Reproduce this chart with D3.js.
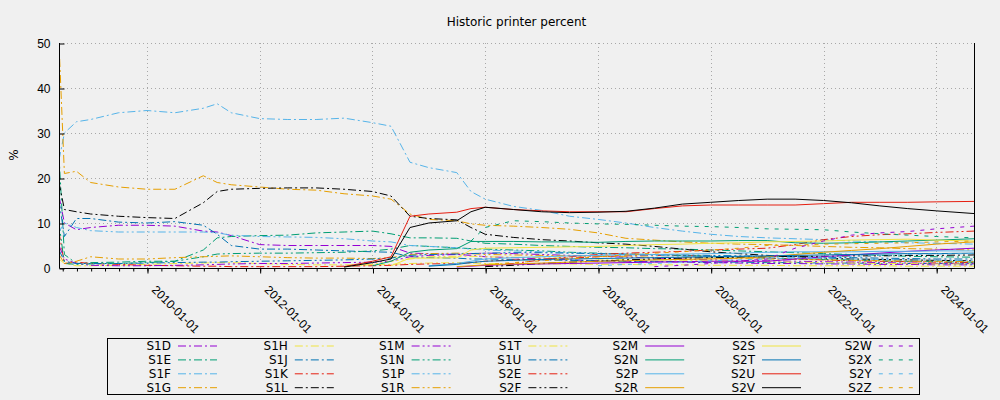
<!DOCTYPE html>
<html>
<head>
<meta charset="utf-8">
<script src="https://cdn.jsdelivr.net/npm/d3@7"></script>
<style>
  body { margin: 0; background: #f0f0f0; }
  svg { display: block; font-family: "DejaVu Sans", sans-serif; }
  .tick text { font-size: 12px; fill: #000; }
</style>
</head>
<body>
<svg width="1000" height="400"></svg>
<script>
const _ = null;

const dates = ["2008-06-10","2008-07-15","2008-10-01","2009-01-01","2009-07-01","2010-01-01","2010-07-01",
  "2011-01-01","2011-04-01","2011-07-01","2012-01-01","2012-07-01","2013-01-01","2013-07-01","2014-01-01",
  "2014-05-01","2014-09-01","2015-01-01","2015-07-01","2015-10-01","2016-01-01","2016-07-01","2017-01-01",
  "2017-07-01","2018-01-01","2018-07-01","2019-01-01","2019-07-01","2020-01-01","2020-07-01","2021-01-01",
  "2021-07-01","2022-01-01","2022-07-01","2023-01-01","2023-07-01","2024-01-01","2024-09-02"];

const names = ["S1D","S1E","S1F","S1G","S1H","S1J","S1K","S1L","S1M","S1N","S1P","S1R","S1T","S1U",
  "S2E","S2F","S2M","S2N","S2P","S2R","S2S","S2T","S2U","S2V","S2W","S2X","S2Y","S2Z"];

const s1d = [16,10,8.5,9,9.5,9.5,9.3,8.2,8,7.2,5.2,5,5,5,5,4.8,3.3,3.2,3,2.8,2.5,2.3,2,1.8,1.6,1.5,1.4,1.3,1.2,1.1,1,1,0.9,0.9,0.8,0.8,0.7,0.7];
const s1e = [25,3,1,1.2,1.3,1.5,1.5,4,6.7,7,7.2,7.3,7.8,8,8.2,7.6,6.7,6.7,6.6,6,5.5,5.3,5,4.8,4.6,4.5,4.3,4.2,4,3.8,3.6,3.4,3.2,3,2.8,2.6,2.5,2.4];
const s1f = [24,30,32.5,33,34.5,35,34.5,35.5,36.5,34.5,33.2,33,33,33.3,32.3,31.5,23.5,22.3,21.2,17,15.3,13.7,12.8,11.5,10.8,10,9,8.2,7.5,7,6.7,6.5,6.3,6,5.8,5.6,5.5,5.3];
const s1g = [50,21,21.5,19,18,17.5,17.5,20.5,19,18.5,18,17.5,17.3,16.5,16,15.3,12,10.8,10.5,9.8,9.5,9.3,9,8.6,7.8,6.6,6.2,5.8,5.5,5.3,5.2,5,4.8,4.6,4.5,4.3,4.2,4];
const s1h = [2,1,0.5,0.5,0.6,0.8,1,1.1,1.2,1.2,1,0.8,0.7,0.7,0.7,0.8,1,1.1,1.2,1.1,1,1,0.9,0.9,0.8,0.8,0.7,0.7,0.6,0.6,0.6,0.5,0.5,0.5,0.5,0.4,0.4,0.4];
const s1j = [15,7,11,11,10.2,10,10.3,9.5,7.5,5,4.2,4.2,4,3.8,3.6,3.5,2.5,2.3,2.2,2,2,1.9,1.8,1.7,1.6,1.5,1.5,1.4,1.3,1.3,1.2,1.2,1.1,1.1,1,1,1,0.9];
const s1k = [8,1,1.3,1,0.8,0.6,0.5,0.4,0.4,0.3,0.3,0.3,0.3,0.4,0.5,0.6,0.8,0.9,1,1.2,1.5,1.8,2,2.2,2.5,2.7,2.8,2.8,2.6,2.4,2.2,2,1.8,1.6,1.5,1.4,1.3,1.2];
const s1l = [19,13,12.5,12,11.5,11.2,11,14.5,17,17.5,17.7,17.8,17.8,17.5,17,16,11.5,11,10.7,9,7.5,6.8,6.3,6,5.6,5.3,4.8,4.2,3.6,3.2,2.8,2.5,2.2,2,1.9,1.8,1.7,1.6];
const s1m = [5,2,1,0.6,0.5,0.5,0.6,0.7,0.8,0.9,1,1,1.1,1.2,1.3,1.5,2.5,2.8,3,3.2,3.3,3.2,3,2.8,2.6,2.4,2.2,2,1.8,1.7,1.6,1.5,1.4,1.3,1.2,1.1,1,1];
const s1n = [10,1,0.8,0.9,1,1.2,1.5,2.5,3.1,3.2,3.3,3.3,3.4,3.5,3.8,4.2,5,4.8,4.5,4.3,4.2,4,3.8,3.5,3.3,3.1,3,2.8,2.6,2.4,2.2,2,1.9,1.8,1.6,1.5,1.4,1.3];
const s1p = [8,10,9,8.3,8,8,8,8,7.8,7.3,7,6.9,6.8,6.5,6,5.8,5,4.8,4.5,4.2,4,3.8,3.6,3.4,3.2,3,2.8,2.6,2.5,2.4,2.3,2.2,2.1,2,1.9,1.8,1.7,1.6];
const s1r = [3,1,1.5,2.5,2,2,2.3,2.5,2.6,2.7,2.5,2.3,2.2,2.2,2.1,2.3,3,3.2,3.3,3.2,3,2.9,2.8,2.7,2.6,2.5,2.4,2.3,2.2,2.1,2,1.9,1.8,1.7,1.6,1.5,1.5,1.4];
const s1t = [_,_,_,_,_,_,_,_,_,_,_,_,_,0.3,0.8,1.5,2,2.5,2.6,2.6,2.5,2.4,2.3,2.2,2,1.9,1.8,1.7,1.6,1.5,1.4,1.3,1.2,1.1,1,1,0.9,0.9];
const s1u = [4,1.5,1,1,1,1.1,1.2,1.3,1.3,1.4,1.5,1.6,1.7,1.8,2,2.2,2.8,3,3.1,3.2,3.3,3.4,3.4,3.3,3.2,3.1,3,2.9,2.8,2.7,2.6,2.5,2.4,2.3,2.2,2.1,2,2];
const s2e = [_,_,_,_,_,_,_,_,_,_,_,_,_,_,_,_,_,_,_,_,0.5,1,1.8,2.5,3,3.3,3.5,3.7,4,4.2,4.4,5.2,6.3,7,7.4,7.6,7.9,8.2];
const s2f = [_,_,_,_,_,_,_,_,_,_,_,_,_,_,_,_,_,_,_,_,0.3,0.6,1,1.3,1.5,1.8,2,2.2,2.3,2.4,2.5,2.6,2.6,2.7,2.7,2.8,2.8,2.9];
const s2m = [_,_,_,_,_,_,_,_,_,_,_,_,_,_,_,_,_,_,0.2,0.4,0.6,0.8,0.9,1,1.1,1.2,1.3,1.4,1.5,1.5,1.5,2,2.5,2.9,3.3,3.7,4,4.4];
const s2n = [_,_,_,_,_,_,_,_,_,_,_,_,_,_,0.5,1.5,3.5,4,4.3,5.9,5.9,5.9,5.8,5.8,5.7,5.9,6,6,6,6.1,6.1,5.6,5.5,5.6,5.8,6,6.2,6.5];
const s2p = [_,_,_,_,_,_,_,_,_,_,_,_,_,_,_,_,_,0.5,1,1.5,2,2.3,2.5,2.7,2.8,2.9,3,3.1,3.2,3.3,3.5,3.6,3.6,3.6,3.7,3.7,3.8,3.8];
const s2r = [_,_,_,_,_,_,_,_,_,_,_,_,_,_,_,_,_,_,0.3,0.5,0.7,0.9,1.1,1.3,1.5,1.6,1.8,1.9,2,2.2,2.5,3,3.5,3.9,4.3,4.8,5.3,5.8];
const s2s = [_,_,_,_,_,_,_,_,_,_,_,_,_,_,_,0.5,2.2,2.2,2.3,4,4.4,4.5,4.6,4.7,4.8,5,5.2,5.3,5.5,5.6,5.8,5.9,6,6.2,6.3,6.4,6.2,6];
const s2t = [_,_,_,_,_,_,_,_,_,_,_,_,_,_,_,_,_,0.4,0.8,1.2,1.5,1.7,1.9,2,2.1,2.2,2.3,2.4,2.5,2.6,2.7,2.8,2.9,3,3.1,3.2,3.2,3.3];
const s2u = [_,_,_,_,_,_,_,_,_,_,_,_,_,0.3,1.5,2.5,11.5,12,12.4,13.2,13.5,13,12.7,12.5,12.5,12.5,13.2,13.8,14,14,14,14,14.3,14.6,14.6,14.6,14.7,14.8];
const s2v = [_,_,_,_,_,_,_,_,_,_,_,_,_,0.2,1.2,2,9,10,10.5,12.5,13.5,13,12.5,12.3,12.4,12.6,13.3,14.2,14.6,15,15.3,15.3,15,14.5,13.8,13.2,12.7,12.1];
const s2w = [_,_,_,_,_,_,_,_,_,_,_,_,_,_,_,_,_,_,_,_,_,_,_,_,_,_,0.3,0.6,1,1.5,2,4.4,6,7.3,7.8,8.1,8.7,9.3];
const s2x = [_,_,_,_,_,_,_,_,_,_,_,_,_,_,_,_,_,_,_,6,9,10.5,10.3,10,9.8,9.7,9.5,9.3,9.2,9,8.7,8.6,8.5,8,7.6,7.3,7,6.7];
const s2y = [_,_,_,_,_,_,_,_,_,_,_,_,_,_,_,_,_,_,_,_,_,_,_,_,0.5,0.8,1,1.3,1.6,1.8,2,2.2,2.4,2.6,2.8,3,3.1,3.2];
const s2z = [_,_,_,_,_,_,_,_,_,_,_,_,_,_,_,_,_,_,_,_,0.8,1.2,1.6,2,2.5,2.9,3.3,3.6,4,4.4,5,5.1,5.3,5.4,5.5,5.6,5.8,6];

const allValues = [s1d,s1e,s1f,s1g,s1h,s1j,s1k,s1l,s1m,s1n,s1p,s1r,s1t,s1u,
  s2e,s2f,s2m,s2n,s2p,s2r,s2s,s2t,s2u,s2v,s2w,s2x,s2y,s2z];

const yTicks = [0, 10, 20, 30, 40, 50];
const xTickYears = [2010, 2012, 2014, 2016, 2018, 2020, 2022, 2024];

// gnuplot default palette and dash styles
const palette = ["#9400d3","#009e73","#56b4e9","#e69f00","#f0e442","#0072b2","#e51e10","#000000"];
const dashStyles = ["8,3,2,3", "8,3,2,3,2,3", null, "4,6"];

const parse = d3.timeParse("%Y-%m-%d");
const xDates = dates.map(parse);

const svg = d3.select("svg");
const margin = { left: 59, right: 974, top: 43, bottom: 268 };

const x = d3.scaleTime()
  .domain([parse("2008-06-10"), parse("2024-09-02")])
  .range([margin.left, margin.right]);
const y = d3.scaleLinear().domain([0, 50]).range([margin.bottom, margin.top]);

svg.append("defs").append("clipPath").attr("id", "clip")
  .append("rect")
  .attr("x", margin.left).attr("y", margin.top)
  .attr("width", margin.right - margin.left).attr("height", margin.bottom - margin.top);

// grid
const grid = svg.append("g")
  .attr("stroke", "#a8a8a8")
  .attr("stroke-width", 1)
  .attr("stroke-dasharray", "1,3");
grid.selectAll(".gy").data(yTicks.slice(1)).enter().append("line")
  .attr("x1", margin.left).attr("x2", margin.right)
  .attr("y1", d => y(d) + 0.5).attr("y2", d => y(d) + 0.5);
grid.selectAll(".gx").data(xTickYears).enter().append("line")
  .attr("x1", d => Math.round(x(new Date(d, 0, 1))) + 0.5)
  .attr("x2", d => Math.round(x(new Date(d, 0, 1))) + 0.5)
  .attr("y1", margin.top).attr("y2", margin.bottom);

// series
const line = d3.line()
  .defined(d => d.v != null)
  .x(d => d.x)
  .y(d => d.y);

const plot = svg.append("g").attr("clip-path", "url(#clip)");
names.forEach((name, i) => {
  const pts = allValues[i].map((v, j) => ({ v: v, x: x(xDates[j]), y: v == null ? 0 : y(v) }));
  plot.append("path")
    .datum(pts)
    .attr("fill", "none")
    .attr("stroke", palette[i % 8])
    .attr("stroke-width", 1)
    .attr("stroke-dasharray", dashStyles[Math.floor(i / 8)])
    .attr("d", line);
});

// border
svg.append("path")
  .attr("fill", "none")
  .attr("stroke", "#000")
  .attr("stroke-width", 1)
  .attr("d", `M${margin.left + 0.5},${margin.top}V${margin.bottom + 0.5}H${margin.right + 0.5}V${margin.top}`);

// y axis
const yAxis = svg.append("g")
  .attr("transform", `translate(${margin.left + 0.5},0.5)`)
  .call(d3.axisLeft(y).tickValues(yTicks).tickSize(-5).tickPadding(9));
yAxis.select(".domain").remove();
yAxis.selectAll(".tick line").attr("stroke", "#000");

// x axis: minor + major ticks
const minor = svg.append("g")
  .attr("transform", `translate(0.5,${margin.bottom + 0.5})`)
  .call(d3.axisBottom(x).ticks(d3.timeMonth.every(3)).tickSize(3).tickFormat(""));
minor.select(".domain").remove();

const xAxis = svg.append("g")
  .attr("transform", `translate(0.5,${margin.bottom + 0.5})`)
  .call(d3.axisBottom(x)
    .tickValues(xTickYears.map(d => new Date(d, 0, 1)))
    .tickSize(5)
    .tickFormat(d3.timeFormat("%Y-%m-%d")));
xAxis.select(".domain").remove();
xAxis.selectAll(".tick text")
  .attr("y", 0)
  .attr("dy", "0.35em")
  .attr("text-anchor", "start")
  .attr("transform", "translate(6,19) rotate(45)");

// title and label
svg.append("text")
  .attr("x", (margin.left + margin.right) / 2)
  .attr("y", 26)
  .attr("text-anchor", "middle")
  .attr("font-size", 12)
  .text("Historic printer percent");

svg.append("text")
  .attr("transform", "translate(18,155) rotate(-90)")
  .attr("text-anchor", "middle")
  .attr("font-size", 12)
  .text("%");

// legend
const legend = svg.append("g");
legend.append("rect")
  .attr("x", 107.5).attr("y", 338.5)
  .attr("width", 812).attr("height", 56)
  .attr("fill", "none").attr("stroke", "#000");

names.forEach((name, i) => {
  const col = Math.floor(i / 4), row = i % 4;
  const tx = 171 + col * 116.8;
  const ty = 350 + row * 13.9;
  legend.append("text")
    .attr("x", tx).attr("y", ty)
    .attr("text-anchor", "end")
    .attr("font-size", 12)
    .text(name);
  legend.append("line")
    .attr("x1", tx + 7).attr("x2", tx + 46)
    .attr("y1", ty - 4).attr("y2", ty - 4)
    .attr("stroke", palette[i % 8])
    .attr("stroke-width", 1)
    .attr("stroke-dasharray", dashStyles[Math.floor(i / 8)]);
});
</script>
</body>
</html>
